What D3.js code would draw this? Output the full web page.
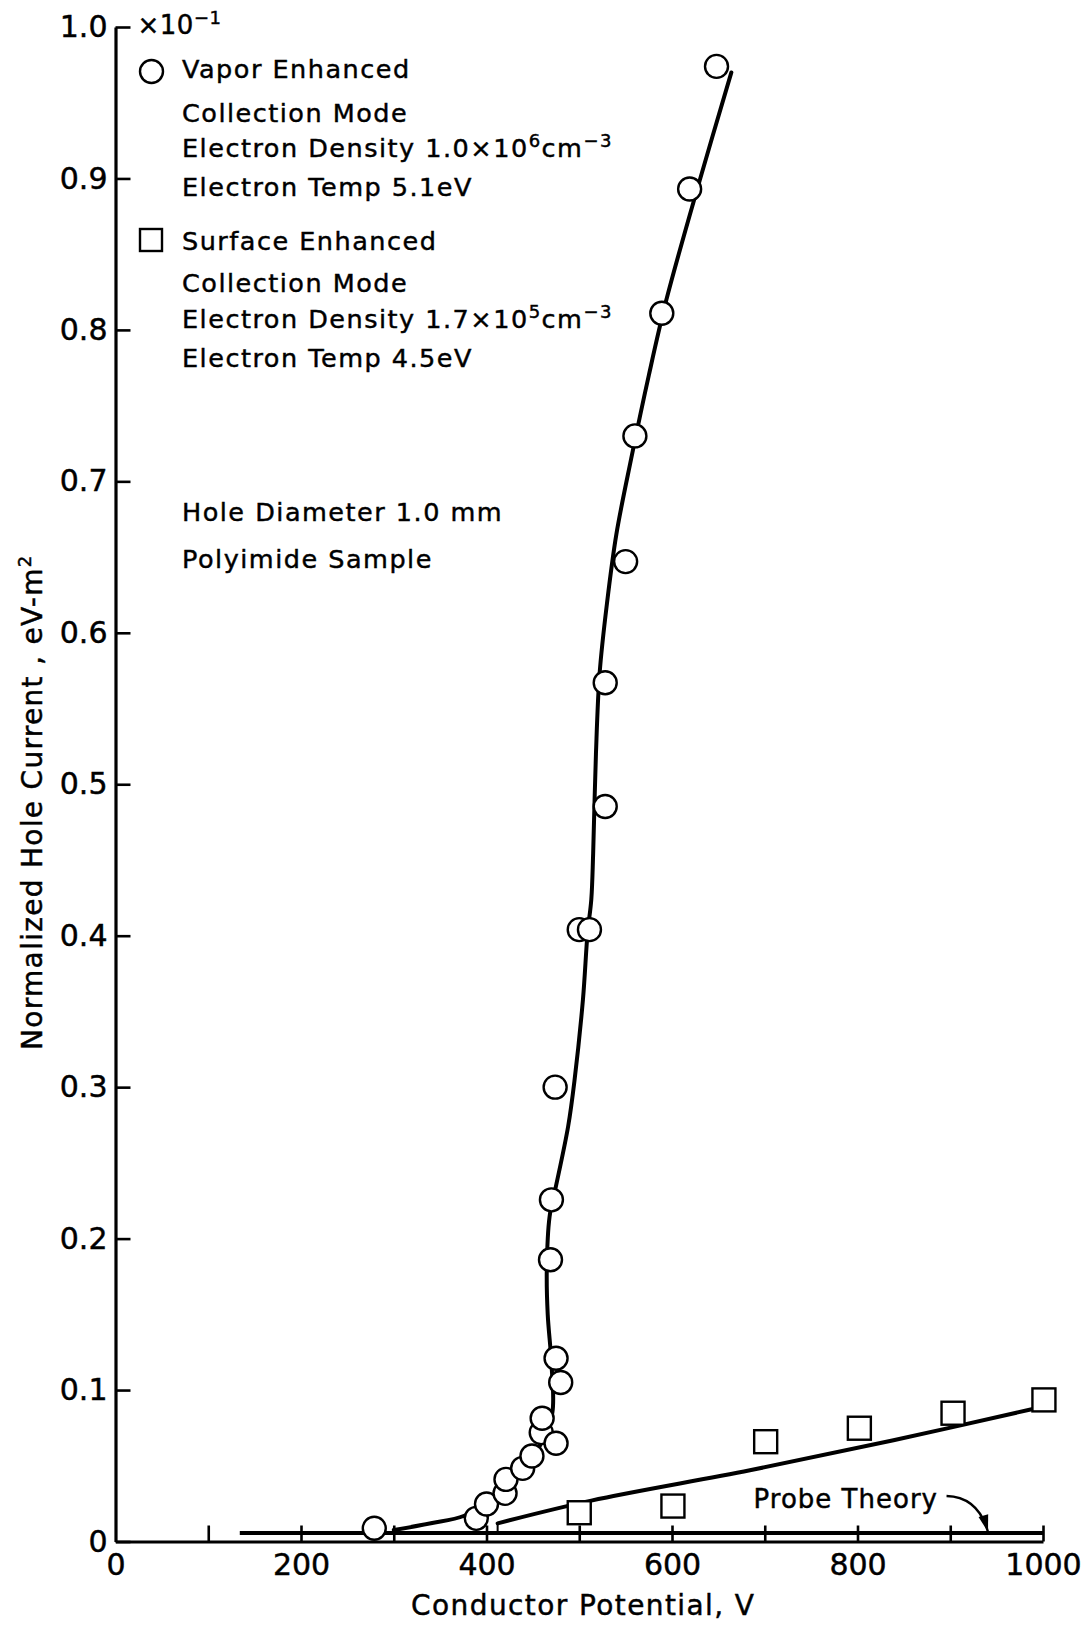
<!DOCTYPE html>
<html>
<head>
<meta charset="utf-8">
<script src="https://cdn.jsdelivr.net/npm/d3@7/dist/d3.min.js"></script>
<style>
  html, body { margin: 0; padding: 0; background: #fff; }
  svg { display: block; }
  text { font-family: "DejaVu Sans", sans-serif; fill: #000; stroke: #000; stroke-width: 0.45px; }
</style>
</head>
<body>
<svg id="chart" width="1091" height="1626"></svg>
<script>
// Vapor enhanced collection mode: [conductor potential V, hole current ×10^-1 eV-m^2]
const vaporPoints = [
  [279, 0.0087], [389, 0.0153], [400, 0.0248], [420, 0.0318], [421, 0.041],
  [439, 0.0483], [449, 0.0565], [459, 0.0719], [460, 0.0814], [475, 0.0649],
  [480, 0.105], [475, 0.121], [469, 0.186], [470, 0.2256], [474, 0.300],
  [500, 0.404], [511, 0.404], [528, 0.4853], [528, 0.567], [550, 0.647],
  [560, 0.730], [589, 0.811], [619, 0.893], [648, 0.974]
];

// Surface enhanced collection mode
const surfacePoints = [
  [500, 0.019], [601, 0.0234], [701, 0.0659], [802, 0.0748], [903, 0.0847], [1001, 0.0935]
];

// Hand-faired curve through the vapor enhanced data
const vaporFit = [
  [300, 0.0076], [340, 0.012], [376, 0.017], [410, 0.030], [440, 0.048],
  [460, 0.066], [471, 0.085], [470, 0.118], [466, 0.15], [465, 0.18],
  [468, 0.2145], [474, 0.232], [488, 0.274], [495, 0.305], [504, 0.358],
  [509, 0.402], [513, 0.424], [515, 0.4545], [518, 0.52], [522, 0.5735],
  [530, 0.62], [540, 0.665], [556, 0.715], [575, 0.77], [594, 0.82],
  [630, 0.899], [664, 0.970]
];

// Faired line through the surface enhanced data
const surfaceFit = [
  [412, 0.012], [513, 0.027], [684, 0.047], [840, 0.067], [989, 0.0875]
];
const surfaceFitStart = [[412, 0.0056], [412, 0.012]];

// Probe theory prediction
const probeTheory = [[134, 0.0056], [1000, 0.0056]];

// Axis ticks and labels
const xTicks = [100, 200, 300, 400, 500, 600, 700, 800, 900, 1000];
const xTickLabels = [0, 200, 400, 600, 800, 1000];
const yTicks = [0, 0.1, 0.2, 0.3, 0.4, 0.5, 0.6, 0.7, 0.8, 0.9, 1.0];

const svg = d3.select("#chart");
svg.append("rect").attr("width", 1091).attr("height", 1626).attr("fill", "#fff");

const x = d3.scaleLinear().domain([0, 1000]).range([115.5, 1043]);
const y = d3.scaleLinear().domain([0, 1.0]).range([1541.5, 27]);

// ---- Axes ----
const xAxisTicks = d3.axisBottom(x).tickValues(xTicks).tickSizeInner(-16).tickSizeOuter(0).tickFormat("");
const gxt = svg.append("g").attr("transform", `translate(0,${y(0)})`).call(xAxisTicks);
gxt.select(".domain").attr("stroke", "#000").attr("stroke-width", 3.2);
gxt.selectAll(".tick line").attr("stroke", "#000").attr("stroke-width", 2.6);

const xAxisLabels = d3.axisBottom(x).tickValues(xTickLabels).tickSize(0).tickPadding(12).tickFormat(d3.format("d"));
const gxl = svg.append("g").attr("transform", `translate(0,${y(0)})`).call(xAxisLabels);
gxl.select(".domain").remove();
gxl.selectAll("text").style("font-size", "30px").attr("fill", "#000");

const yAxis = d3.axisLeft(y).tickValues(yTicks).tickSizeInner(-15).tickSizeOuter(0).tickPadding(8)
  .tickFormat(d => d === 0 ? "0" : d3.format(".1f")(d));
const gy = svg.append("g").attr("transform", `translate(${x(0)},0)`).call(yAxis);
gy.select(".domain").attr("stroke", "#000").attr("stroke-width", 3.2);
gy.selectAll(".tick line").attr("stroke", "#000").attr("stroke-width", 2.6);
gy.selectAll("text").style("font-size", "30px").attr("fill", "#000");

// Multiplier on the top of the y axis
const mult = svg.append("text").attr("x", x(0) + 22).attr("y", y(1.0) + 7)
  .style("font-size", "26px").style("letter-spacing", "0.5px");
mult.append("tspan").text("×10");
mult.append("tspan").attr("dy", -10).style("font-size", "18px").text("−1");

// Axis titles
svg.append("text")
  .attr("transform", `translate(42,${(y(0) + y(1)) / 2 + 18}) rotate(-90)`)
  .attr("text-anchor", "middle")
  .style("font-size", "28px").style("letter-spacing", "1.3px")
  .call(t => {
    t.append("tspan").text("Normalized  Hole  Current , eV-m");
    t.append("tspan").attr("dy", -11).style("font-size", "18px").text("2");
  });

svg.append("text")
  .attr("x", (x(0) + x(1000)) / 2 + 4).attr("y", 1615)
  .attr("text-anchor", "middle")
  .style("font-size", "28px").style("letter-spacing", "1.4px")
  .text("Conductor  Potential,  V");

// ---- Curves ----
const line = d3.line().x(d => x(d[0])).y(d => y(d[1]));
const smooth = d3.line().x(d => x(d[0])).y(d => y(d[1])).curve(d3.curveCatmullRom.alpha(0.5));

svg.append("path").datum(probeTheory)
  .attr("d", line).attr("fill", "none").attr("stroke", "#000").attr("stroke-width", 3.8);

svg.append("path").datum(surfaceFitStart)
  .attr("d", line).attr("fill", "none").attr("stroke", "#000").attr("stroke-width", 2);

svg.append("path").datum(surfaceFit)
  .attr("d", smooth)
  .attr("fill", "none").attr("stroke", "#000").attr("stroke-width", 4)
  .attr("stroke-linecap", "round");

svg.append("path").datum(vaporFit)
  .attr("d", smooth)
  .attr("fill", "none").attr("stroke", "#000").attr("stroke-width", 4)
  .attr("stroke-linejoin", "round").attr("stroke-linecap", "round");

// ---- Data markers ----
svg.append("g").selectAll("circle").data(vaporPoints).join("circle")
  .attr("cx", d => x(d[0])).attr("cy", d => y(d[1])).attr("r", 11.5)
  .attr("fill", "#fff").attr("stroke", "#000").attr("stroke-width", 2.4);

const sq = 23;
svg.append("g").selectAll("rect").data(surfacePoints).join("rect")
  .attr("x", d => x(d[0]) - sq / 2).attr("y", d => y(d[1]) - sq / 2)
  .attr("width", sq).attr("height", sq)
  .attr("fill", "#fff").attr("stroke", "#000").attr("stroke-width", 2.4);

// ---- Probe theory annotation ----
svg.append("text").attr("x", x(688)).attr("y", y(0.0221))
  .style("font-size", "26px").style("letter-spacing", "1px").text("Probe  Theory");

const arrowStart = [896, 0.030], arrowCtrl = [930, 0.0294], arrowTip = [940.7, 0.0063];
svg.append("path")
  .attr("d", `M${x(arrowStart[0])},${y(arrowStart[1])} Q${x(arrowCtrl[0])},${y(arrowCtrl[1])} ${x(arrowTip[0])},${y(arrowTip[1])}`)
  .attr("fill", "none").attr("stroke", "#000").attr("stroke-width", 2.4);
{
  const tx = x(arrowTip[0]), ty = y(arrowTip[1]);
  const cx = x(arrowCtrl[0]), cy = y(arrowCtrl[1]);
  const ang = Math.atan2(ty - cy, tx - cx);
  const L = 17, W = 5;
  const bx = tx - L * Math.cos(ang), by = ty - L * Math.sin(ang);
  const px = -Math.sin(ang) * W, py = Math.cos(ang) * W;
  svg.append("path")
    .attr("d", `M${tx},${ty} L${bx + px},${by + py} L${bx - px},${by - py} Z`)
    .attr("fill", "#000");
}

// ---- Legend ----
const legend = svg.append("g");
const lx = 182;
const legendFont = "25.5px";
function legendLine(yPos, parts) {
  const t = legend.append("text").attr("x", lx).attr("y", yPos)
    .style("font-size", legendFont).style("letter-spacing", "1.5px");
  parts.forEach(p => {
    if (typeof p === "string") t.append("tspan").text(p);
    else t.append("tspan").attr("dy", p.dy).style("font-size", p.size || legendFont).text(p.t);
  });
  return t;
}
legend.append("circle").attr("cx", 151.5).attr("cy", 71.5).attr("r", 11.5)
  .attr("fill", "#fff").attr("stroke", "#000").attr("stroke-width", 2.4);
legendLine(78, ["Vapor  Enhanced"]);
legendLine(121.5, ["Collection  Mode"]);
legendLine(157, ["Electron  Density  1.0×10", {t: "6", dy: -10, size: "18px"}, {t: "cm", dy: 10}, {t: "−3", dy: -10, size: "18px"}]);
legendLine(196, ["Electron  Temp  5.1eV"]);

legend.append("rect").attr("x", 151 - 11).attr("y", 240 - 11).attr("width", 22).attr("height", 22)
  .attr("fill", "#fff").attr("stroke", "#000").attr("stroke-width", 2.4);
legendLine(249.5, ["Surface Enhanced"]);
legendLine(291.5, ["Collection  Mode"]);
legendLine(328, ["Electron  Density  1.7×10", {t: "5", dy: -10, size: "18px"}, {t: "cm", dy: 10}, {t: "−3", dy: -10, size: "18px"}]);
legendLine(367, ["Electron  Temp  4.5eV"]);

legendLine(521, ["Hole  Diameter  1.0 mm"]);
legendLine(568, ["Polyimide  Sample"]);
</script>
</body>
</html>
